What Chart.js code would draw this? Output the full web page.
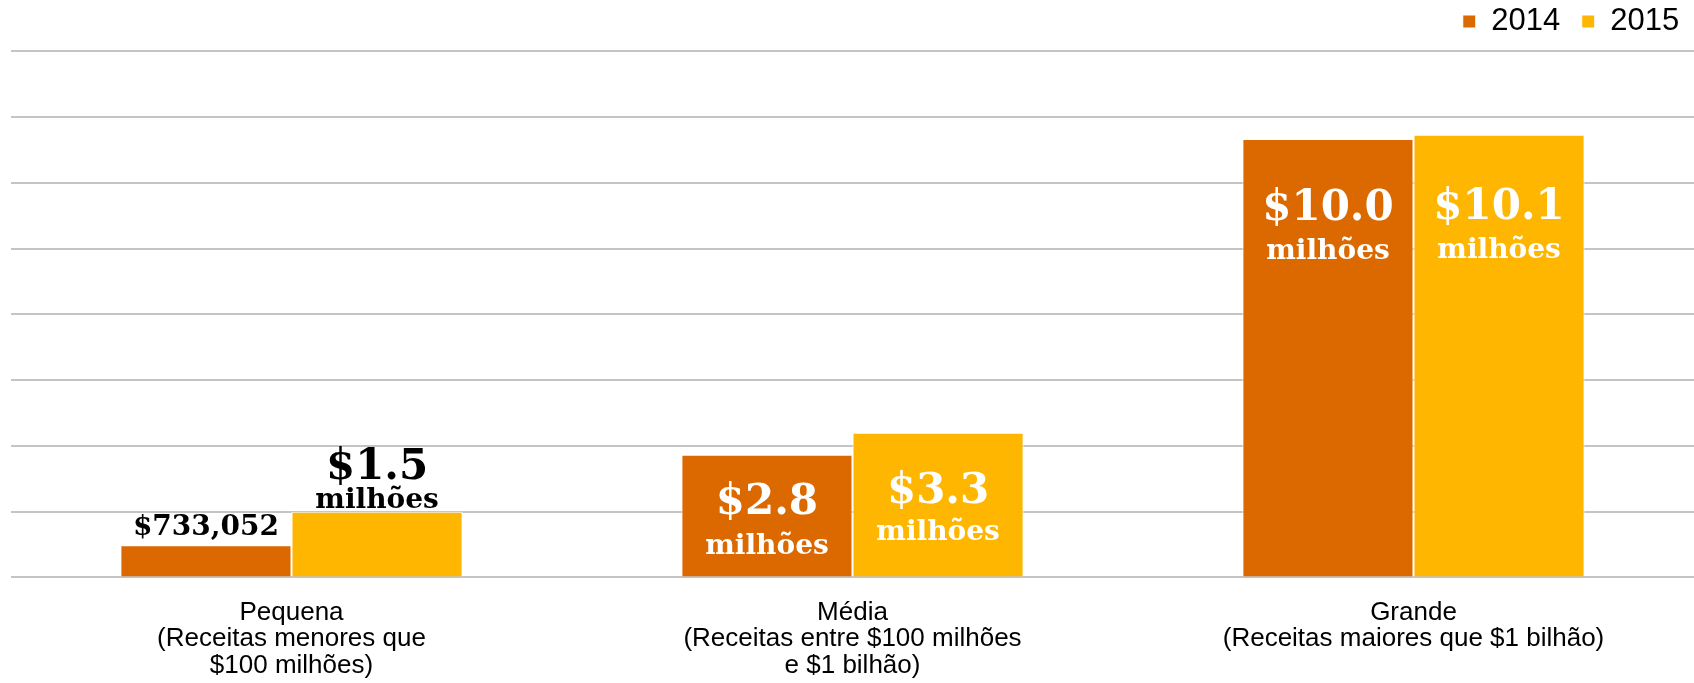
<!DOCTYPE html>
<html>
<head>
<meta charset="utf-8">
<script src="https://cdn.jsdelivr.net/npm/chart.js@4.4.1/dist/chart.umd.min.js"></script>
<style>
  html, body { margin: 0; padding: 0; background: #fff; }
  #wrap { width: 1694px; height: 683px; position: relative; }
</style>
</head>
<body>
<div id="wrap"><canvas id="chart"></canvas></div>
<script>
// categories (x axis, multi-line)
const categories = [
  ['Pequena', '(Receitas menores que', '$100 milhões)'],
  ['Média', '(Receitas entre $100 milhões', 'e $1 bilhão)'],
  ['Grande', '(Receitas maiores que $1 bilhão)'],
];
const seriesNames = ['2014', '2015'];

// values in millions of dollars
const values2014 = [0.733052, 2.8, 10.0];
const values2015 = [1.5, 3.3, 10.1];

// text written on / above the bars
const labels2014 = [['$733,052'], ['$2.8', 'milhões'], ['$10.0', 'milhões']];
const labels2015 = [['$1.5', 'milhões'], ['$3.3', 'milhões'], ['$10.1', 'milhões']];

// y grid step (no tick labels shown)
const gridStep = 1.5;

// label placement: baseline offset from bar top (px), font size per line
const labelStyle2014 = [
  { color: '#000', offsets: [-10], sizes: [28] },
  { color: '#fff', offsets: [59, 99], sizes: [42, 28] },
  { color: '#fff', offsets: [81, 120], sizes: [42, 28] },
];
const labelStyle2015 = [
  { color: '#000', offsets: [-33, -4], sizes: [42, 28] },
  { color: '#fff', offsets: [70, 107], sizes: [42, 28] },
  { color: '#fff', offsets: [84, 123], sizes: [42, 28] },
];

// extra room after each legend entry (spaces) to mimic the original spacing
const legendGaps = ['\u2002', '\u2009\u200A'];

const barLabels = {
  id: 'barLabels',
  afterDatasetsDraw(chart) {
    const ctx = chart.ctx;
    chart.data.datasets.forEach((ds, di) => {
      chart.getDatasetMeta(di).data.forEach((bar, i) => {
        const st = ds.labelStyle[i];
        ctx.save();
        ctx.textAlign = 'center';
        ctx.textBaseline = 'alphabetic';
        ctx.fillStyle = st.color;
        ds.valueLabels[i].forEach((txt, k) => {
          ctx.font = 'bold ' + st.sizes[k] + 'px "DejaVu Serif", Georgia, serif';
          ctx.fillText(txt, bar.x, bar.y + st.offsets[k]);
        });
        ctx.restore();
      });
    });
  }
};

const ctx = document.getElementById('chart').getContext('2d');
new Chart(ctx, {
  type: 'bar',
  data: {
    labels: categories,
    datasets: [
      {
        label: seriesNames[0],
        data: values2014,
        backgroundColor: '#DC6900',
        borderColor: '#ffffff',
        borderWidth: 1,
        valueLabels: labels2014,
        labelStyle: labelStyle2014,
      },
      {
        label: seriesNames[1],
        data: values2015,
        backgroundColor: '#FFB600',
        borderColor: '#ffffff',
        borderWidth: 1,
        valueLabels: labels2015,
        labelStyle: labelStyle2015,
      },
    ],
  },
  options: {
    responsive: true,
    maintainAspectRatio: false,
    animation: false,
    layout: { padding: { left: 11, right: 0, top: 0, bottom: -10 } },
    datasets: {
      bar: { categoryPercentage: 0.61, barPercentage: 1.0 },
    },
    scales: {
      x: {
        grid: { display: false },
        border: { display: false },
        ticks: {
          color: '#000',
          maxRotation: 0,
          autoSkip: false,
          padding: 14,
          font: { family: '"Liberation Sans", Arial, sans-serif', size: 26, lineHeight: 1.02 },
        },
      },
      y: {
        min: 0,
        max: 12.1,
        grid: { color: '#c4c4c4', lineWidth: 2, drawTicks: false },
        border: { display: false },
        ticks: { display: false, stepSize: gridStep, includeBounds: false },
      },
    },
    plugins: {
      legend: {
        position: 'top',
        align: 'end',
        labels: {
          color: '#000',
          boxWidth: 13,
          boxHeight: 13,
          padding: 6,
          font: { family: '"Liberation Sans", Arial, sans-serif', size: 31 },
          generateLabels(chart) {
            const items = Chart.defaults.plugins.legend.labels.generateLabels(chart);
            items.forEach((it, i) => { it.text = it.text + legendGaps[i]; });
            return items;
          },
        },
      },
      tooltip: { enabled: false },
    },
  },
  plugins: [barLabels],
});
</script>
</body>
</html>
